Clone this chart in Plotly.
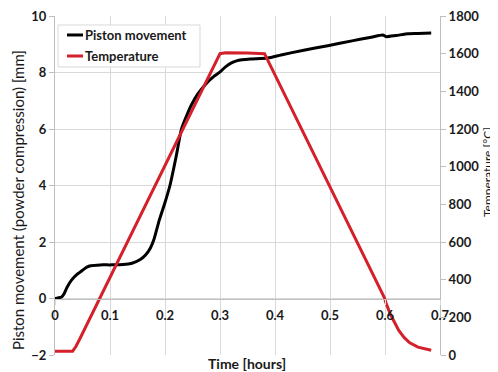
import plotly.graph_objects as go

# Piston movement (powder compression) [mm]
time_piston = [0, 0.005, 0.012, 0.016, 0.022, 0.030, 0.040, 0.050, 0.058, 0.065,
               0.082, 0.10, 0.124, 0.14, 0.155, 0.165, 0.173, 0.18, 0.19, 0.20,
               0.209, 0.22, 0.23, 0.24, 0.248, 0.26, 0.276, 0.29, 0.30, 0.31,
               0.32, 0.33, 0.34, 0.355, 0.387, 0.411, 0.45, 0.496, 0.54, 0.575,
               0.596, 0.602, 0.62, 0.642, 0.66, 0.684]
piston_mm = [0, 0.02, 0.05, 0.15, 0.4, 0.65, 0.85, 1.0, 1.11, 1.16,
             1.19, 1.19, 1.2, 1.25, 1.38, 1.55, 1.77, 2.1, 2.8, 3.4,
             4.0, 5.0, 6.0, 6.5, 6.85, 7.25, 7.63, 7.88, 8.02, 8.2,
             8.33, 8.41, 8.45, 8.48, 8.51, 8.62, 8.78, 8.95, 9.12, 9.25,
             9.33, 9.27, 9.31, 9.37, 9.38, 9.4]

# Temperature [°C]
time_temp = [0, 0.032, 0.038, 0.045, 0.30, 0.31, 0.35, 0.381, 0.599, 0.602,
             0.61, 0.617, 0.625, 0.635, 0.645, 0.66, 0.672, 0.684]
temp_c = [20, 20, 45, 85, 1600, 1605, 1603, 1600, 304, 275,
          215, 171, 130, 92, 65, 42, 32, 25]

series_names = ["Piston movement", "Temperature"]
series_colors = ["black", "#d4202a"]

FONT = "Lato"
TXT = "#1a1a1a"
GRID = "#d9d9d9"

fig = go.Figure()
fig.add_trace(go.Scatter(x=time_piston, y=piston_mm, mode="lines",
                         name=series_names[0], showlegend=False,
                         line=dict(color=series_colors[0], width=3,
                                   shape="spline", smoothing=0.6)))
fig.add_trace(go.Scatter(x=time_temp, y=temp_c, mode="lines",
                         name=series_names[1], yaxis="y2", showlegend=False,
                         line=dict(color=series_colors[1], width=3)))

tickfont = dict(family=FONT, size=13, color=TXT, weight="bold")

# custom legend (box, short line samples, labels) in paper coordinates
shapes = [dict(type="rect", xref="paper", yref="paper",
               x0=0.0078, x1=0.3766, y0=0.8496, y1=0.9735,
               line=dict(color=GRID, width=1), fillcolor="white",
               layer="above")]
annotations = []
for i, (nm, col) in enumerate(zip(series_names, series_colors)):
    yy = 0.9440 - i * 0.0620
    shapes.append(dict(type="line", xref="paper", yref="paper",
                       x0=0.0312, x1=0.0727, y0=yy, y1=yy,
                       line=dict(color=col, width=3), layer="above"))
    annotations.append(dict(text=nm, xref="paper", yref="paper",
                            x=0.0740, y=yy, xanchor="left", yanchor="middle",
                            showarrow=False,
                            font=dict(family=FONT, size=13, color=TXT,
                                      weight="bold")))

annotations += [
    dict(text="Piston movement (powder compression) [mm]", textangle=-90,
         xref="paper", yref="paper", x=-0.0961, y=0.457,
         xanchor="center", yanchor="middle", showarrow=False,
         font=dict(family=FONT, size=15, color=TXT)),
    dict(text="Temperature [°C]", textangle=-90,
         xref="paper", yref="paper", x=1.125, y=0.54,
         xanchor="center", yanchor="middle", showarrow=False,
         font=dict(family=FONT, size=12, color=TXT)),
    dict(text="Time [hours]", xref="paper", yref="paper",
         x=0.4987, y=-0.024, xanchor="center", yanchor="middle",
         showarrow=False,
         font=dict(family=FONT, size=14, color=TXT, weight="bold")),
]

fig.update_layout(
    width=490, height=364,
    margin=dict(l=47, r=58, t=8, b=17, autoexpand=False),
    paper_bgcolor="white", plot_bgcolor="white",
    showlegend=False,
    shapes=shapes,
    annotations=annotations,
    xaxis=dict(range=[0, 0.7], dtick=0.1, tick0=0, anchor="free",
               position=2/12, showline=True, linecolor="#bfbfbf", linewidth=1,
               showgrid=True, gridcolor=GRID, zeroline=False, automargin=False,
               ticks="outside", ticklen=5, tickcolor=GRID, tickfont=tickfont,
               ticklabeloverflow="allow",
               tickvals=[0, 0.1, 0.2, 0.3, 0.4, 0.5, 0.6, 0.7],
               ticktext=["0", "0.1", "0.2", "0.3", "0.4", "0.5", "0.6", "0.7"]),
    yaxis=dict(range=[-2, 10], dtick=2, showline=True, linecolor="#bfbfbf",
               linewidth=1, showgrid=True, gridcolor=GRID, zeroline=False,
               automargin=False, ticklabeloverflow="allow",
               ticks="outside", ticklen=5, tickcolor="#bfbfbf",
               tickfont=tickfont),
    yaxis2=dict(range=[0, 1800], dtick=200, overlaying="y", side="right",
                showline=True, linecolor="#bfbfbf", linewidth=1,
                showgrid=False, zeroline=False, automargin=False,
                ticklabeloverflow="allow",
                ticks="outside", ticklen=5, tickcolor="#bfbfbf",
                tickfont=tickfont),
)

fig.write_html("out.html")
